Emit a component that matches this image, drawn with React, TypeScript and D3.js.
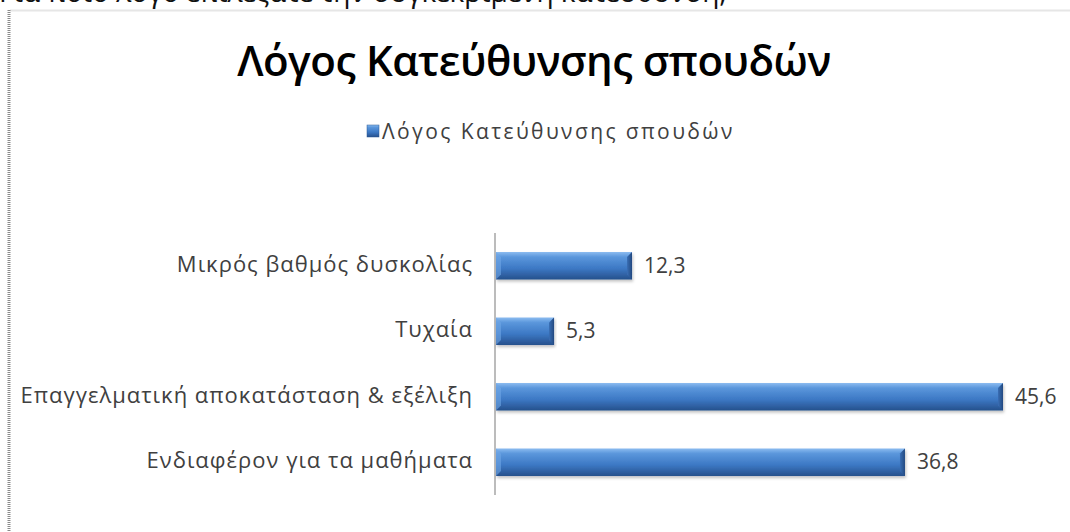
import React from "react";
import * as d3 from "d3";

const categories = [
  "Μικρός βαθμός δυσκολίας",
  "Τυχαία",
  "Επαγγελματική αποκατάσταση & εξέλιξη",
  "Ενδιαφέρον για τα μαθήματα",
];
const values = [12.3, 5.3, 45.6, 36.8];
const valueLabels = ["12,3", "5,3", "45,6", "36,8"];
const chartTitle = "Λόγος Κατεύθυνσης σπουδών";
const seriesName = "Λόγος Κατεύθυνσης σπουδών";
const pageHeading = "Για ποιο λόγο επιλέξατε την συγκεκριμένη κατεύθυνση;";

const width = 1070;
const height = 532;
const font = "'Open Sans', 'Noto Sans', sans-serif";

const App: React.FC = () => {
  const x = d3.scaleLinear().domain([0, 50]).range([495, 1052]);
  const y = d3
    .scaleBand<string>()
    .domain(categories)
    .range([233, 495])
    .paddingInner(0.58)
    .paddingOuter(0.29);
  const bh = y.bandwidth();

  return (
    <svg
      width={width}
      height={height}
      style={{ position: "absolute", left: 0, top: 0, background: "#fff" }}
    >
      <defs>
        <linearGradient id="barFill" x1="0" y1="0" x2="0" y2="1">
          <stop offset="0" stopColor="#8cbcf0" />
          <stop offset="0.18" stopColor="#5b97dc" />
          <stop offset="0.6" stopColor="#3c78c4" />
          <stop offset="1" stopColor="#26508c" />
        </linearGradient>
        <linearGradient id="capFill" x1="0" y1="0" x2="1" y2="0">
          <stop offset="0" stopColor="#3a6fb5" />
          <stop offset="1" stopColor="#224880" />
        </linearGradient>
        <filter id="shadow" x="-5%" y="-20%" width="110%" height="160%">
          <feDropShadow dx="1" dy="2" stdDeviation="1.5" floodColor="#000" floodOpacity="0.25" />
        </filter>
      </defs>

      {/* page heading, cut by the top edge */}
      <text x={-1} y={2} fontFamily={font} fontSize={28} fill="#111">
        {pageHeading}
      </text>

      {/* chart frame */}
      <line x1={10} x2={width} y1={10.5} y2={10.5} stroke="#e6e6e6" strokeWidth={2} />
      <line x1={9} x2={9} y1={10} y2={height} stroke="#8a8a8a" strokeWidth={3} strokeDasharray="1,1" />

      <text
        x={534}
        y={76}
        textAnchor="middle"
        fontFamily={font}
        fontSize={42}
        fontWeight={600}
        fill="#000"
        letterSpacing={-0.5}
      >
        {chartTitle}
      </text>

      {/* legend */}
      <rect x={367} y={125} width={12} height={12} fill="url(#barFill)" stroke="#2a5794" strokeWidth={0.5} />
      <text x={382} y={139} fontFamily={font} fontSize={21} fill="#404040" letterSpacing={2.4}>
        {seriesName}
      </text>

      {/* axis */}
      <line x1={x(0)} x2={x(0)} y1={233} y2={495} stroke="#a6a6a6" strokeWidth={1.5} />

      {categories.map((c, i) => {
        const y0 = y(c)!;
        const x0 = x(0) + 1;
        const x1 = x(values[i]);
        const cap = 5;
        return (
          <g key={c}>
            <text
              x={473}
              y={y0 + bh / 2 + 6}
              textAnchor="end"
              fontFamily={font}
              fontSize={22}
              fill="#404040"
              letterSpacing={1}
            >
              {c}
            </text>
            <g filter="url(#shadow)">
              <rect x={x0} y={y0} width={x1 - x0} height={bh} fill="url(#barFill)" />
              <polygon
                points={`${x1 - cap},${y0 + cap} ${x1},${y0} ${x1},${y0 + bh} ${x1 - cap},${y0 + bh - cap}`}
                fill="url(#capFill)"
              />
              <polygon
                points={`${x0},${y0} ${x0 + cap},${y0 + cap} ${x0 + cap},${y0 + bh - cap} ${x0},${y0 + bh}`}
                fill="#6fa6e6"
                opacity={0.6}
              />
            </g>
            <text
              x={x1 + 12}
              y={y0 + bh / 2 + 7}
              fontFamily={font}
              fontSize={21}
              fill="#404040"
            >
              {valueLabels[i]}
            </text>
          </g>
        );
      })}
    </svg>
  );
};

export default App;
